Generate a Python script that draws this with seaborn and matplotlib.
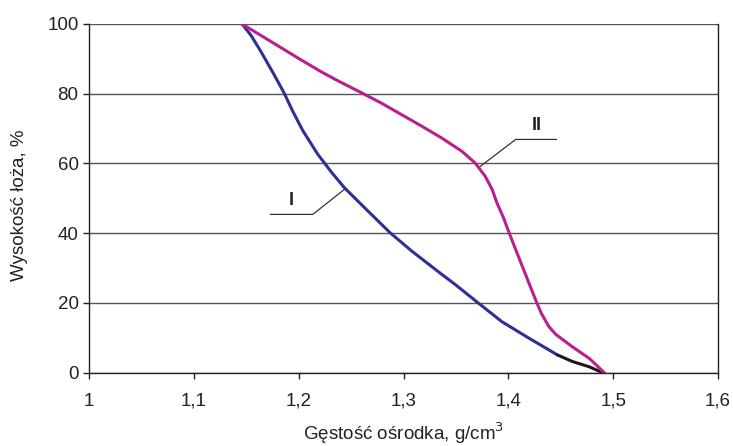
import matplotlib
matplotlib.use("Agg")
import matplotlib.pyplot as plt
import seaborn as sns
from matplotlib.ticker import FixedLocator, FixedFormatter

sns.set_theme(style="white")
plt.rcParams['font.family'] = ['Liberation Sans', 'DejaVu Sans']

# Curve I (blue), density g/cm3 vs bed height %
dens_I = [1.146, 1.1544, 1.164, 1.1767, 1.1863, 1.1943, 1.204, 1.2183, 1.231,
          1.2438, 1.2663, 1.287, 1.3078, 1.3365, 1.3493, 1.3717, 1.394,
          1.4197, 1.4468]
height_I = [100, 96.8, 92.1, 85.4, 80.1, 75.0, 69.4, 62.6, 57.6,
            53.0, 46.3, 40.2, 34.9, 28.2, 25.3, 19.9, 14.6,
            9.9, 5.1]
# Tail of curve I (black)
dens_I_tail = [1.4468, 1.4612, 1.4772, 1.490]
height_I_tail = [5.1, 3.2, 1.7, 0]

# Curve II (magenta)
dens_II = [1.146, 1.1608, 1.1767, 1.199, 1.2215, 1.2375, 1.2598, 1.279, 1.2982,
           1.3174, 1.3365, 1.3557, 1.3685, 1.378, 1.3845, 1.389, 1.3957, 1.4005,
           1.4132, 1.426, 1.4315, 1.4385, 1.4452, 1.4612, 1.4772, 1.4916]
height_II = [100, 97.3, 94.4, 90.3, 86.3, 83.7, 80.3, 77.3, 74.0,
             70.7, 67.3, 63.5, 60.1, 56.3, 52.6, 48.8, 44.2, 40.3,
             30.6, 20.9, 17.0, 13.3, 11.0, 7.4, 4.1, 0]

x_ticks = [1.0, 1.1, 1.2, 1.3, 1.4, 1.5, 1.6]
x_tick_labels = ["1", "1,1", "1,2", "1,3", "1,4", "1,5", "1,6"]
y_ticks = [0, 20, 40, 60, 80, 100]
y_tick_labels = ["0", "20", "40", "60", "80", "100"]

fig = plt.figure(figsize=(7.33, 4.46), dpi=100)
ax = fig.add_axes([89/733, 1-372.7/446, (718-89)/733, (372.7-24)/446])

blue = "#2E3192"
magenta = "#B8208F"

sns.lineplot(x=dens_I, y=height_I, sort=False, ax=ax, color=blue, lw=2.2)
sns.lineplot(x=dens_I_tail, y=height_I_tail, sort=False, ax=ax, color="#1a1a1a", lw=2.2)
sns.lineplot(x=dens_II, y=height_II, sort=False, ax=ax, color=magenta, lw=2.2)

ax.set_xlim(1.0, 1.6)
ax.set_ylim(0, 100)
ax.xaxis.set_major_locator(FixedLocator(x_ticks))
ax.xaxis.set_major_formatter(FixedFormatter(x_tick_labels))
ax.yaxis.set_major_locator(FixedLocator(y_ticks))
ax.yaxis.set_major_formatter(FixedFormatter(y_tick_labels))
ax.tick_params(axis='both', which='major', direction='out', length=4.5, width=1,
               color='#222222', labelsize=13.5, labelcolor='#222222', bottom=True, left=True)
ax.tick_params(axis='x', pad=10)
ax.tick_params(axis='y', pad=3)
ax.grid(axis='y', color='#555555', lw=1)
ax.grid(axis='x', visible=False)
for side in ['left', 'bottom', 'right']:
    ax.spines[side].set_color('#222222')
    ax.spines[side].set_linewidth(1)
ax.spines['top'].set_visible(False)

ax.set_xlabel("Gęstość ośrodka, g/cm$^3$", fontsize=13.5, color='#222222', labelpad=8)
ax.set_ylabel("Wysokość łoża, %", fontsize=13.5, color='#222222')
ax.yaxis.set_label_coords(-0.097, 0.48)

# leader lines and labels
ax.plot([1.373, 1.407, 1.446], [59.1, 66.9, 66.9], color='#333333', lw=0.9)
ax.text(1.427, 71.0, "II", ha='center', va='center', fontsize=13, fontweight='bold', color='#222222')
ax.plot([1.173, 1.2135, 1.245], [45.4, 45.4, 52.9], color='#333333', lw=0.9)
ax.text(1.193, 49.3, "I", ha='center', va='center', fontsize=13, fontweight='bold', color='#222222')

fig.savefig("out.png", dpi=100)
